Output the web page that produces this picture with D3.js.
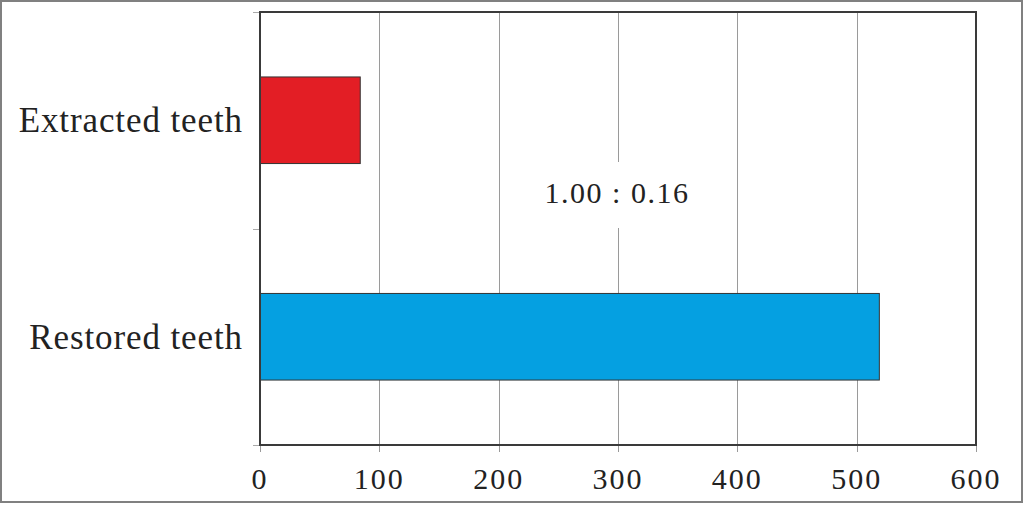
<!DOCTYPE html>
<html><head><meta charset="utf-8">
<script src="https://cdn.jsdelivr.net/npm/d3@7"></script>
<style>body{margin:0;background:#fff}svg{display:block}</style>
</head><body>
<svg id="c" width="1024" height="505"></svg>
<script>
const categories = ["Extracted teeth", "Restored teeth"];
const values = [84, 519];
const colors = ["#e31e25", "#05a0e1"];
const xTicks = [0, 100, 200, 300, 400, 500, 600];
const ratioLabel = "1.00 : 0.16";

const svg = d3.select("#c");
const font = "'Liberation Serif', 'DejaVu Serif', serif";
const m = {left: 260, right: 976, top: 12, bottom: 445};
const x = d3.scaleLinear().domain([0, 600]).range([m.left, m.right]);
const y = d3.scaleBand().domain(categories).range([m.top, m.bottom]).paddingInner(0.6).paddingOuter(0.3);
const yb = d3.scaleBand().domain(categories).range([m.top, m.bottom]);

// outer border
svg.append("rect").attr("x", 1).attr("y", 1).attr("width", 1021).attr("height", 501)
  .attr("fill", "#fff").attr("stroke", "#808080").attr("stroke-width", 2);

// gridlines
svg.append("g").selectAll("line").data(xTicks.slice(1, -1)).join("line")
  .attr("x1", d => Math.round(x(d)) + 0.5).attr("x2", d => Math.round(x(d)) + 0.5)
  .attr("y1", m.top).attr("y2", m.bottom)
  .attr("stroke", "#9a9a9a").attr("stroke-width", 1);

// x ticks
svg.append("g").selectAll("line").data(xTicks).join("line")
  .attr("x1", d => Math.round(x(d)) + 0.5).attr("x2", d => Math.round(x(d)) + 0.5)
  .attr("y1", m.bottom).attr("y2", m.bottom + 7)
  .attr("stroke", "#9a9a9a");
svg.append("g").selectAll("text").data(xTicks).join("text")
  .attr("x", d => x(d)).attr("y", 489)
  .attr("text-anchor", "middle").attr("font-family", font).attr("font-size", 30)
  .attr("letter-spacing", 2)
  .attr("fill", "#222").text(d => d);

// y ticks at band boundaries
const yTickPos = [m.top, yb(categories[1]), m.bottom];
svg.append("g").selectAll("line").data(yTickPos).join("line")
  .attr("x1", m.left - 7).attr("x2", m.left)
  .attr("y1", d => Math.round(d) + 0.5).attr("y2", d => Math.round(d) + 0.5)
  .attr("stroke", "#aaa");

// bars
svg.append("g").selectAll("rect").data(categories).join("rect")
  .attr("x", x(0)).attr("y", d => y(d))
  .attr("width", (d, i) => x(values[i]) - x(0)).attr("height", y.bandwidth())
  .attr("fill", (d, i) => colors[i]).attr("stroke", "#333").attr("stroke-width", 1);

// frame
svg.append("rect").attr("x", m.left).attr("y", m.top)
  .attr("width", m.right - m.left).attr("height", m.bottom - m.top)
  .attr("fill", "none").attr("stroke", "#3a3a3a").attr("stroke-width", 2);

// category labels
svg.append("g").selectAll("text").data(categories).join("text")
  .attr("x", 243).attr("y", d => yb(d) + yb.bandwidth() / 2 + 12)
  .attr("text-anchor", "end").attr("font-family", font).attr("font-size", 35)
  .attr("letter-spacing", 0.9)
  .attr("fill", "#222").text(d => d);

// ratio label with white background
const cx = 617, cy = 194;
svg.append("rect").attr("x", cx - 72).attr("y", 162).attr("width", 144).attr("height", 66).attr("fill", "#fff");
svg.append("text").attr("x", cx).attr("y", cy + 9)
  .attr("text-anchor", "middle").attr("font-family", font).attr("font-size", 30)
  .attr("letter-spacing", 1.5)
  .attr("fill", "#222").text(ratioLabel);
</script>
</body></html>
